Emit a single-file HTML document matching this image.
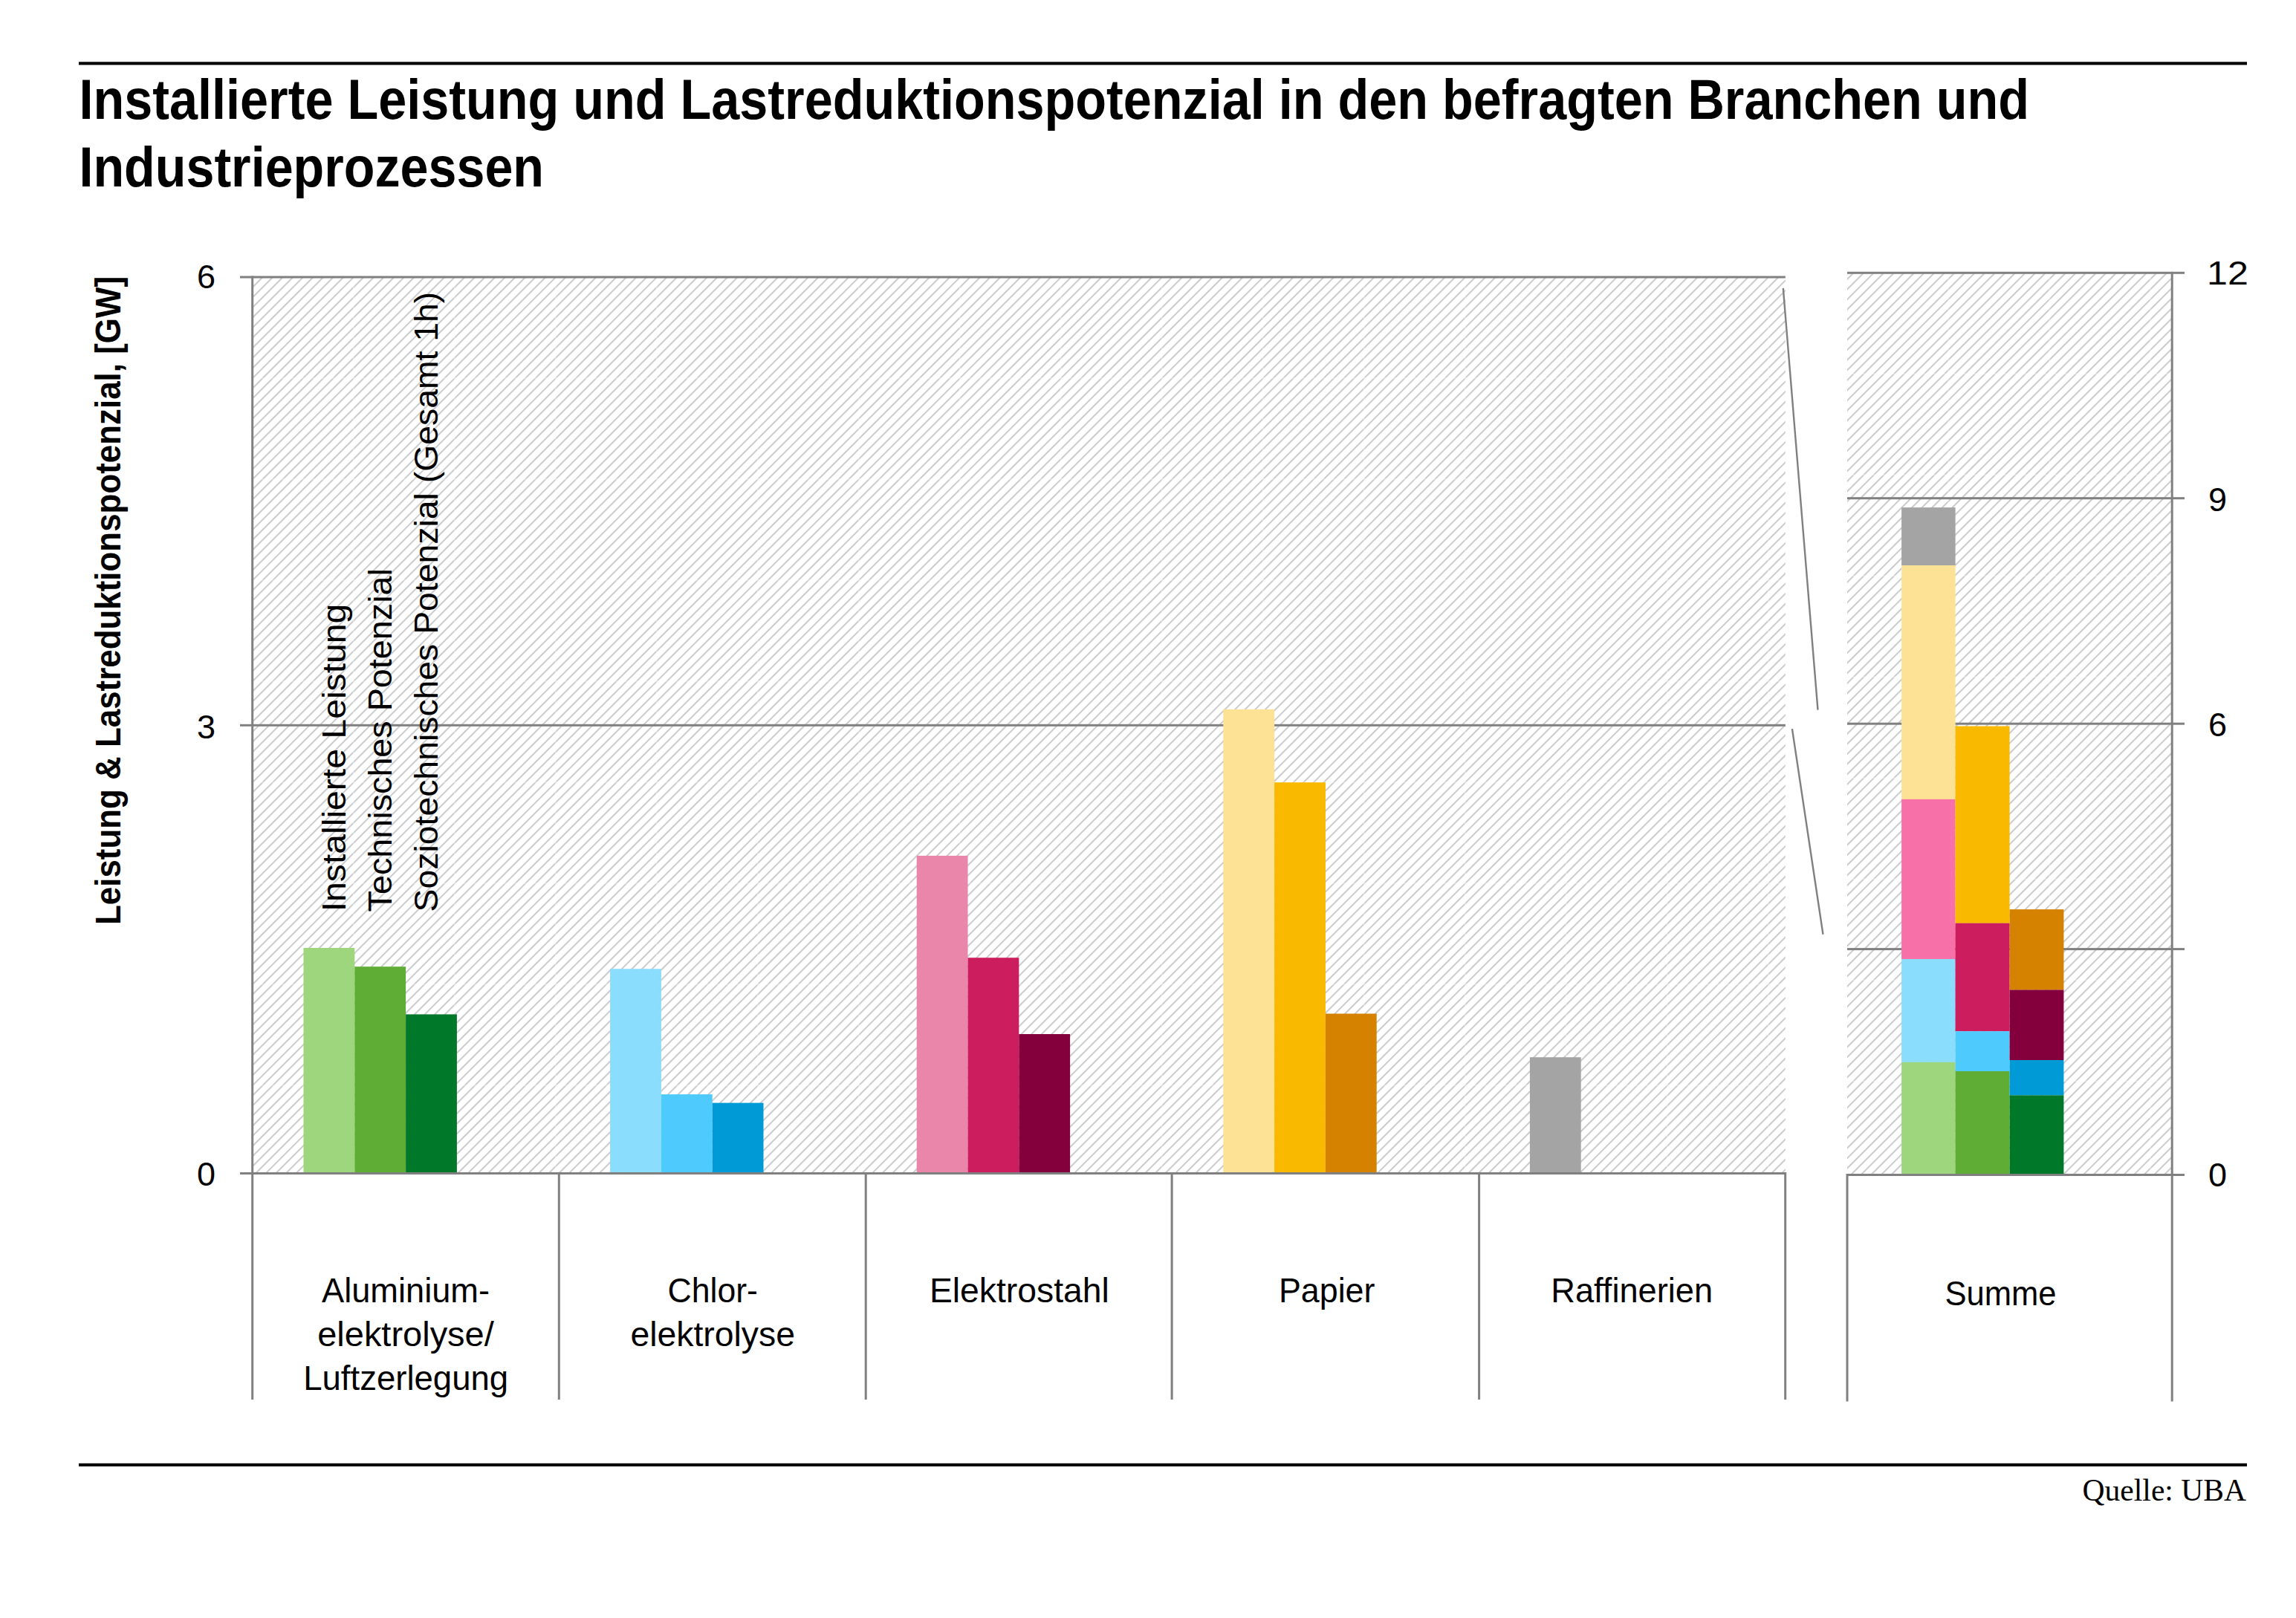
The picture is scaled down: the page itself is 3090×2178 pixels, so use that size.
<!DOCTYPE html>
<html><head><meta charset="utf-8">
<style>
html,body{margin:0;padding:0;background:#fff;}
body{width:3090px;height:2178px;overflow:hidden;}
svg{display:block;}
text{font-family:"Liberation Sans",sans-serif;fill:#000;}
</style></head>
<body>
<svg width="3090" height="2178" viewBox="0 0 3090 2178">
<defs>
<pattern id="h" patternUnits="userSpaceOnUse" width="9.617" height="40" patternTransform="rotate(45) translate(3.1,0)">
<rect x="0" y="0" width="2.0" height="40" fill="#c9cbcd"/>
</pattern>
</defs>
<rect x="0" y="0" width="3090" height="2178" fill="#fff"/>

<!-- header / footer rules -->
<rect x="106" y="83.3" width="2918" height="4.1" fill="#000"/>
<rect x="106" y="1969.8" width="2918" height="4.1" fill="#000"/>

<!-- title -->
<text id="t1" x="106.5" y="159.7" font-size="76" font-weight="bold" textLength="2624.5" lengthAdjust="spacingAndGlyphs">Installierte Leistung und Lastreduktionspotenzial in den befragten Branchen und</text>
<text id="t2" x="106.5" y="251.2" font-size="76" font-weight="bold" textLength="625.5" lengthAdjust="spacingAndGlyphs">Industrieprozessen</text>

<!-- LEFT PANEL -->
<rect x="339.7" y="373" width="2063.1" height="1206.5" fill="url(#h)"/>
<g fill="#fff" opacity="0.45">
<rect x="475.1" y="373" width="1.2" height="1206.5"/>
<rect x="611.1" y="373" width="1.2" height="1206.5"/>
<rect x="747.1" y="373" width="1.2" height="1206.5"/>
<rect x="883.1" y="373" width="1.2" height="1206.5"/>
<rect x="1019.1" y="373" width="1.2" height="1206.5"/>
<rect x="1155.1" y="373" width="1.2" height="1206.5"/>
<rect x="1291.1" y="373" width="1.2" height="1206.5"/>
<rect x="1427.1" y="373" width="1.2" height="1206.5"/>
<rect x="1563.1" y="373" width="1.2" height="1206.5"/>
<rect x="1699.1" y="373" width="1.2" height="1206.5"/>
<rect x="1835.1" y="373" width="1.2" height="1206.5"/>
<rect x="1971.1" y="373" width="1.2" height="1206.5"/>
<rect x="2107.1" y="373" width="1.2" height="1206.5"/>
<rect x="2243.1" y="373" width="1.2" height="1206.5"/>
<rect x="2379.1" y="373" width="1.2" height="1206.5"/>
<rect x="339.7" y="508.4" width="2063.1" height="1.2"/>
<rect x="339.7" y="644.4" width="2063.1" height="1.2"/>
<rect x="339.7" y="780.4" width="2063.1" height="1.2"/>
<rect x="339.7" y="916.4" width="2063.1" height="1.2"/>
<rect x="339.7" y="1052.4" width="2063.1" height="1.2"/>
<rect x="339.7" y="1188.4" width="2063.1" height="1.2"/>
<rect x="339.7" y="1324.4" width="2063.1" height="1.2"/>
<rect x="339.7" y="1460.4" width="2063.1" height="1.2"/>
</g>
<g fill="#808080">
<rect x="323" y="371.5" width="2079.8" height="3"/>
<rect x="323" y="974.8" width="2079.8" height="3"/>
</g>
<g id="bars1">
<rect x="408.5" y="1276" width="68.8" height="303.5" fill="#9dd67c"/>
<rect x="477.3" y="1301.2" width="68.8" height="278.3" fill="#5fad35"/>
<rect x="546.1" y="1365.4" width="68.8" height="214.1" fill="#007829"/>

<rect x="821.1" y="1304.2" width="68.8" height="275.3" fill="#8bddfd"/>
<rect x="889.9" y="1473.1" width="68.8" height="106.4" fill="#4fcafd"/>
<rect x="958.7" y="1484.6" width="68.8" height="94.9" fill="#009bd6"/>

<rect x="1233.7" y="1151.9" width="68.8" height="427.6" fill="#ea86aa"/>
<rect x="1302.5" y="1289.2" width="68.8" height="290.3" fill="#cc1d5e"/>
<rect x="1371.3" y="1392" width="68.8" height="187.5" fill="#84003c"/>

<rect x="1646.3" y="954.8" width="68.8" height="624.7" fill="#fde296"/>
<rect x="1715.1" y="1053.2" width="68.8" height="526.3" fill="#f9b900"/>
<rect x="1783.9" y="1364.5" width="68.8" height="215" fill="#d58200"/>

<rect x="2058.9" y="1423.2" width="68.8" height="156.3" fill="#a4a4a4"/>
</g>
<g fill="#808080">
<rect x="323" y="1578" width="2079.8" height="3"/>
<!-- axis -->
<rect x="338.2" y="371.5" width="3" height="1512.5"/>
<rect x="750.8" y="1578" width="3" height="306"/>
<rect x="1163.7" y="1578" width="3" height="306"/>
<rect x="1575.6" y="1578" width="3" height="306"/>
<rect x="1989.1" y="1578" width="3" height="306"/>
<rect x="2401.2" y="1578" width="3" height="306"/>
</g>

<!-- y tick labels left -->
<text x="290" y="388" font-size="45" text-anchor="end">6</text>
<text x="290" y="994" font-size="45" text-anchor="end">3</text>
<text x="290" y="1596" font-size="45" text-anchor="end">0</text>

<!-- y axis title -->
<text transform="translate(161.8,1245) rotate(-90)" x="0" y="0" font-size="48" font-weight="bold" textLength="873" lengthAdjust="spacingAndGlyphs">Leistung &amp; Lastreduktionspotenzial, [GW]</text>

<!-- legend rotated -->
<text transform="translate(465.3,1227.3) rotate(-90)" font-size="45" textLength="414.6" lengthAdjust="spacingAndGlyphs">Installierte Leistung</text>
<text transform="translate(526.8,1227.4) rotate(-90)" font-size="45" textLength="462.3" lengthAdjust="spacingAndGlyphs">Technisches Potenzial</text>
<text transform="translate(589.1,1227.4) rotate(-90)" font-size="45" textLength="834.7" lengthAdjust="spacingAndGlyphs">Soziotechnisches Potenzial (Gesamt 1h)</text>

<!-- category labels -->
<g font-size="46" text-anchor="middle" lengthAdjust="spacingAndGlyphs">
<text x="546" y="1753" textLength="226" lengthAdjust="spacingAndGlyphs">Aluminium-</text>
<text x="546" y="1811.5" textLength="237.6" lengthAdjust="spacingAndGlyphs">elektrolyse/</text>
<text x="546.2" y="1870.5" textLength="276" lengthAdjust="spacingAndGlyphs">Luftzerlegung</text>
<text x="959.2" y="1753" textLength="121.4" lengthAdjust="spacingAndGlyphs">Chlor-</text>
<text x="959.2" y="1811.5" textLength="221.6" lengthAdjust="spacingAndGlyphs">elektrolyse</text>
<text x="1371.9" y="1753" textLength="242" lengthAdjust="spacingAndGlyphs">Elektrostahl</text>
<text x="1785.7" y="1753" textLength="129.5" lengthAdjust="spacingAndGlyphs">Papier</text>
<text x="2196.2" y="1753" textLength="217.8" lengthAdjust="spacingAndGlyphs">Raffinerien</text>
<text x="2692.5" y="1757" textLength="150.1" lengthAdjust="spacingAndGlyphs">Summe</text>
</g>

<!-- break lines -->
<line x1="2399.8" y1="387.8" x2="2446.5" y2="955.6" stroke="#808080" stroke-width="2.4"/>
<line x1="2411.9" y1="981.1" x2="2453.5" y2="1257.8" stroke="#808080" stroke-width="2.4"/>

<!-- RIGHT PANEL -->
<rect x="2486" y="367.3" width="437.2" height="1214.2" fill="url(#h)"/>
<g fill="#fff" opacity="0.45">
<rect x="2621.4" y="367.3" width="1.2" height="1214.2"/>
<rect x="2757.4" y="367.3" width="1.2" height="1214.2"/>
<rect x="2893.4" y="367.3" width="1.2" height="1214.2"/>
<rect x="2486" y="502.7" width="437.2" height="1.2"/>
<rect x="2486" y="638.7" width="437.2" height="1.2"/>
<rect x="2486" y="774.7" width="437.2" height="1.2"/>
<rect x="2486" y="910.7" width="437.2" height="1.2"/>
<rect x="2486" y="1046.7" width="437.2" height="1.2"/>
<rect x="2486" y="1182.7" width="437.2" height="1.2"/>
<rect x="2486" y="1318.7" width="437.2" height="1.2"/>
<rect x="2486" y="1454.7" width="437.2" height="1.2"/>
</g>
<g fill="#808080">
<rect x="2486" y="365.8" width="454" height="3"/>
<rect x="2486" y="669.2" width="454" height="3"/>
<rect x="2486" y="972.7" width="454" height="3"/>
<rect x="2486" y="1276.1" width="454" height="3"/>
</g>
<g>
<rect x="2559.1" y="683.1" width="72.5" height="78" fill="#a4a4a4"/>
<rect x="2559.1" y="761" width="72.5" height="315" fill="#fde296"/>
<rect x="2559.1" y="1075.9" width="72.5" height="215.2" fill="#f870a8"/>
<rect x="2559.1" y="1291" width="72.5" height="138.9" fill="#8bddfd"/>
<rect x="2559.1" y="1429.8" width="72.5" height="151.7" fill="#9dd67c"/>

<rect x="2631.5" y="977.5" width="73.1" height="265.3" fill="#f9b900"/>
<rect x="2631.5" y="1242.7" width="73.1" height="145.6" fill="#cc1d5e"/>
<rect x="2631.5" y="1388.2" width="73.1" height="53.9" fill="#4fcafd"/>
<rect x="2631.5" y="1442" width="73.1" height="139.5" fill="#5fad35"/>

<rect x="2704.6" y="1224.1" width="72.8" height="108.5" fill="#d58200"/>
<rect x="2704.6" y="1332.5" width="72.8" height="94.6" fill="#84003c"/>
<rect x="2704.6" y="1427" width="72.8" height="47.5" fill="#009bd6"/>
<rect x="2704.6" y="1474.4" width="72.8" height="107.1" fill="#007829"/>
</g>
<g fill="#808080">
<rect x="2486" y="1580" width="454" height="3"/>
<rect x="2921.7" y="365.8" width="3" height="1520.7"/>
<rect x="2484.5" y="1580" width="3" height="306.5"/>
</g>
<text x="2970" y="383" font-size="45" textLength="55.8" lengthAdjust="spacingAndGlyphs">12</text>
<text x="2972" y="688" font-size="45">9</text>
<text x="2972" y="991" font-size="45">6</text>
<text x="2972" y="1597" font-size="45">0</text>

<!-- source -->
<text x="3023" y="2019.8" font-size="43" text-anchor="end" textLength="220.4" lengthAdjust="spacingAndGlyphs" style="font-family:'Liberation Serif',serif">Quelle: UBA</text>
</svg>
</body></html>
